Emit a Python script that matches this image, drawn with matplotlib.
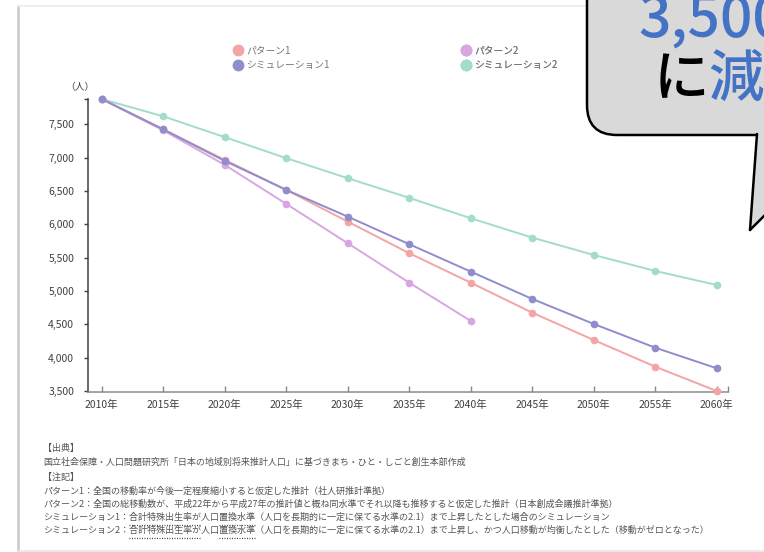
import numpy as np
import matplotlib
matplotlib.use('Agg')
import matplotlib.pyplot as plt
from matplotlib.patches import FancyBboxPatch, Polygon
from matplotlib.lines import Line2D

plt.rcParams['font.family'] = ['Noto Sans CJK JP', 'DejaVu Sans']

# 将来人口の推計（人）
years = ['2010年', '2015年', '2020年', '2025年', '2030年', '2035年',
         '2040年', '2045年', '2050年', '2055年', '2060年']
pattern1 = [7880, 7425, 6967, 6517, 6041, 5567, 5125, 4675, 4265, 3865, 3500]
pattern2 = [7880, 7410, 6892, 6307, 5717, 5125, 4551]
sim1 = [7880, 7425, 6952, 6517, 6116, 5702, 5291, 4881, 4506, 4150, 3841]
sim2 = [7880, 7620, 7308, 6993, 6692, 6397, 6092, 5801, 5541, 5301, 5090]
yticks = [3500, 4000, 4500, 5000, 5500, 6000, 6500, 7000, 7500]

c_p1 = '#F4A4A4'
c_s1 = '#8F8DCC'
c_p2 = '#D9A6E3'
c_s2 = '#A3DCCB'

W, H = 764, 552
fig = plt.figure(figsize=(W / 100, H / 100), dpi=100)

ax = fig.add_axes([88 / W, 1 - 392 / H, 640 / W, 293 / H])
x = np.arange(len(years))
for vals, col in [(sim2, c_s2), (pattern2, c_p2), (pattern1, c_p1), (sim1, c_s1)]:
    ax.plot(x[:len(vals)], vals, color=col, lw=1.4, marker='o', ms=4.5,
            clip_on=False, zorder=3)

ax.set_xlim(-13.7 / 61.5, 10 + 11.3 / 61.5)
ax.set_ylim(3485, 7880)
ax.set_xticks(x, years)
ax.set_xticks([10 + 11.3 / 61.5], minor=True)
ax.set_yticks(yticks + [7880], [f'{v:,}' for v in yticks] + [''])
ax.tick_params(axis='x', which='both', direction='in', length=4, width=1,
               color='#888888', labelsize=7.5, labelcolor='#404040', pad=6)
ax.tick_params(axis='y', direction='out', length=3, width=1, color='#404040',
               labelsize=7.5, labelcolor='#404040', pad=7)
for s in ['top', 'right']:
    ax.spines[s].set_visible(False)
ax.spines['left'].set_color('#404040')
ax.spines['left'].set_linewidth(1.1)
ax.spines['bottom'].set_color('#8c8c8c')
ax.spines['bottom'].set_linewidth(1.1)

# 全体用のピクセル座標レイヤー
ov = fig.add_axes([0, 0, 1, 1])
ov.set_xlim(0, W)
ov.set_ylim(H, 0)
ov.axis('off')

# 外枠
ov.plot([18, 18], [6, 551], color='#c8c8c8', lw=1.8)
ov.plot([18, 600], [6, 6], color='#ececec', lw=1.2)
ov.plot([18, 764], [551, 551], color='#e6e6e6', lw=1.2)

ov.text(80, 87, '（人）', fontsize=7, color='#404040', ha='center', va='center')

# 凡例
def handle(col, label):
    return Line2D([], [], ls='none', marker='o', ms=7.5, color=col, label=label)

for hs, x0 in [([handle(c_p1, 'パターン1'), handle(c_s1, 'シミュレーション1')], 233),
               ([handle(c_p2, 'パターン2'), handle(c_s2, 'シミュレーション2')], 461)]:
    leg = ov.legend(handles=hs, loc='upper left', bbox_to_anchor=(x0, 45),
                    bbox_transform=ov.transData, frameon=False, fontsize=7,
                    labelcolor='#777777', handlelength=1.0, handletextpad=0.4,
                    labelspacing=0.55, borderpad=0, borderaxespad=0)
    ov.add_artist(leg)

# 出典・注記
notes = [
    (448, '【出典】'),
    (462, '国立社会保障・人口問題研究所「日本の地域別将来推計人口」に基づきまち・ひと・しごと創生本部作成'),
    (477, '【注記】'),
    (491, 'パターン1：全国の移動率が今後一定程度縮小すると仮定した推計（社人研推計準拠）'),
    (504, 'パターン2：全国の総移動数が、平成22年から平成27年の推計値と概ね同水準でそれ以降も推移すると仮定した推計（日本創成会議推計準拠）'),
    (517, 'シミュレーション1：合計特殊出生率が人口置換水準（人口を長期的に一定に保てる水準の2.1）まで上昇したとした場合のシミュレーション'),
    (530, 'シミュレーション2：合計特殊出生率が人口置換水準（人口を長期的に一定に保てる水準の2.1）まで上昇し、かつ人口移動が均衡したとした（移動がゼロとなった）'),
]
nfs = 6.5
for yy, s in notes:
    ov.text(43, yy, s, fontsize=nfs, color='#555555', va='center', ha='left')

renderer = fig.canvas.get_renderer()


def width_of(s):
    t = ov.text(0, 0, s, fontsize=nfs)
    w = t.get_window_extent(renderer).width
    t.remove()
    return w


# 点線の下線
for yy, prefix in [(525, 'シミュレーション1：'), (538, 'シミュレーション2：')]:
    x1 = 43 + width_of(prefix)
    x2 = x1 + width_of('合計特殊出生率が')
    x3 = x1 + width_of('合計特殊出生率が人口')
    x4 = x1 + width_of('合計特殊出生率が人口置換水準')
    for a, b in [(x1, x2), (x3, x4)]:
        ov.plot([a, b], [yy, yy], color='#444444', lw=0.9, ls=(0, (0.8, 1.2)))

# 吹き出し
bubble = FancyBboxPatch((587, -100), 400, 235, boxstyle='round,pad=0,rounding_size=30',
                        facecolor='#D9D9D9', edgecolor='black', lw=1.8, zorder=5)
ov.add_patch(bubble)
tail = Polygon([(757, 133), (750, 230), (800, 180), (800, 133)], closed=True,
               facecolor='#D9D9D9', edgecolor='none', zorder=6)
ov.add_patch(tail)
ov.plot([757, 750], [134, 230], color='black', lw=1.8, zorder=7, solid_capstyle='round')
ov.plot([750, 800], [230, 180], color='black', lw=1.8, zorder=7, solid_capstyle='round')

blue = '#4472C4'
ov.text(638, 37, '3,500人', fontsize=41, fontweight='medium', color=blue,
        ha='left', va='baseline', zorder=8)
ov.text(654, 96, 'に', fontsize=40, fontweight='medium', color='black',
        ha='left', va='baseline', zorder=8)
ov.text(708, 96, '減少', fontsize=40, fontweight='medium', color=blue,
        ha='left', va='baseline', zorder=8)

fig.savefig('out.png', dpi=100)
